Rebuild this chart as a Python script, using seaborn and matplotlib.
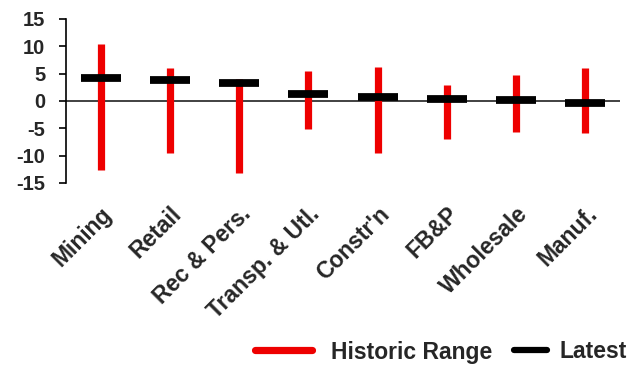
import seaborn as sns
import matplotlib.pyplot as plt
from matplotlib.lines import Line2D
from matplotlib.legend_handler import HandlerLine2D

# data
sectors = ["Mining", "Retail", "Rec & Pers.", "Transp. & Utl.", "Constr'n",
           "FB&P", "Wholesale", "Manuf."]
hist_high = [10.4, 6.0, 4.1, 5.5, 6.3, 3.0, 4.8, 6.1]
hist_low = [-12.7, -9.5, -13.1, -5.1, -9.5, -6.9, -5.7, -5.8]
latest = [4.2, 3.8, 3.3, 1.2, 0.7, 0.4, 0.2, -0.3]


class PartLine(HandlerLine2D):
    # draw the legend line over only part of the handle box
    def __init__(self, start, end, **kw):
        super().__init__(**kw)
        self.start, self.end = start, end

    def create_artists(self, legend, orig_handle, xdescent, ydescent,
                       width, height, fontsize, trans):
        line = Line2D([self.start * width, self.end * width],
                      [height / 2 - ydescent] * 2)
        self.update_prop(line, orig_handle, legend)
        line.set_transform(trans)
        return [line]


sns.set_style("white")
plt.rcParams['font.family'] = ['Liberation Sans', 'DejaVu Sans']
plt.rcParams['font.weight'] = 'bold'
plt.rcParams['axes.unicode_minus'] = False

fig = plt.figure(figsize=(6.43, 3.69), dpi=100)
ax = fig.add_axes([66 / 643, 1 - 183 / 369, (620 - 66) / 643, (183 - 19) / 369])

red = "#EE0000"
x = list(range(len(sectors)))
ax.axhline(0, color="#333333", lw=1.3, zorder=1)
ax.vlines(x, hist_low, hist_high, color=red, lw=5.2, zorder=2)
ax.hlines(latest, [i - 0.29 for i in x], [i + 0.29 for i in x],
          color="black", lw=5.6, zorder=3)

ax.set_xlim(-0.5, len(sectors) - 0.5)
ax.set_ylim(-15, 15)
ax.set_yticks([-15, -10, -5, 0, 5, 10, 15])
ax.set_xticks(x)
ax.set_xticklabels(sectors, rotation=45, ha="right", rotation_mode="anchor",
                   fontsize=16.5, fontweight="bold")
ax.tick_params(axis="x", length=0, pad=14)
ax.tick_params(axis="y", direction="out", length=5, width=1.2, color="black",
               labelsize=14.5, pad=10, left=True)
for lab in ax.get_yticklabels():
    lab.set_fontweight("bold")

sns.despine(ax=ax, bottom=True)
ax.spines["left"].set_color("black")
ax.spines["left"].set_linewidth(1.2)

h_range = Line2D([], [], color=red, lw=5.2)
h_latest = Line2D([], [], color="black", lw=4.5)
fig.legend([h_range, h_latest], ["Historic Range", "Latest"],
           loc="center right", bbox_to_anchor=(627 / 643, 1 - 352 / 369),
           ncol=2, frameon=False, borderpad=0, borderaxespad=0,
           prop={"size": 16.5, "weight": "bold"}, handlelength=2.5,
           handletextpad=0.57, columnspacing=-0.15,
           handler_map={h_range: PartLine(-0.11, 0.88),
                        h_latest: PartLine(0.43, 1.0)})

fig.savefig("out.png", dpi=100)
